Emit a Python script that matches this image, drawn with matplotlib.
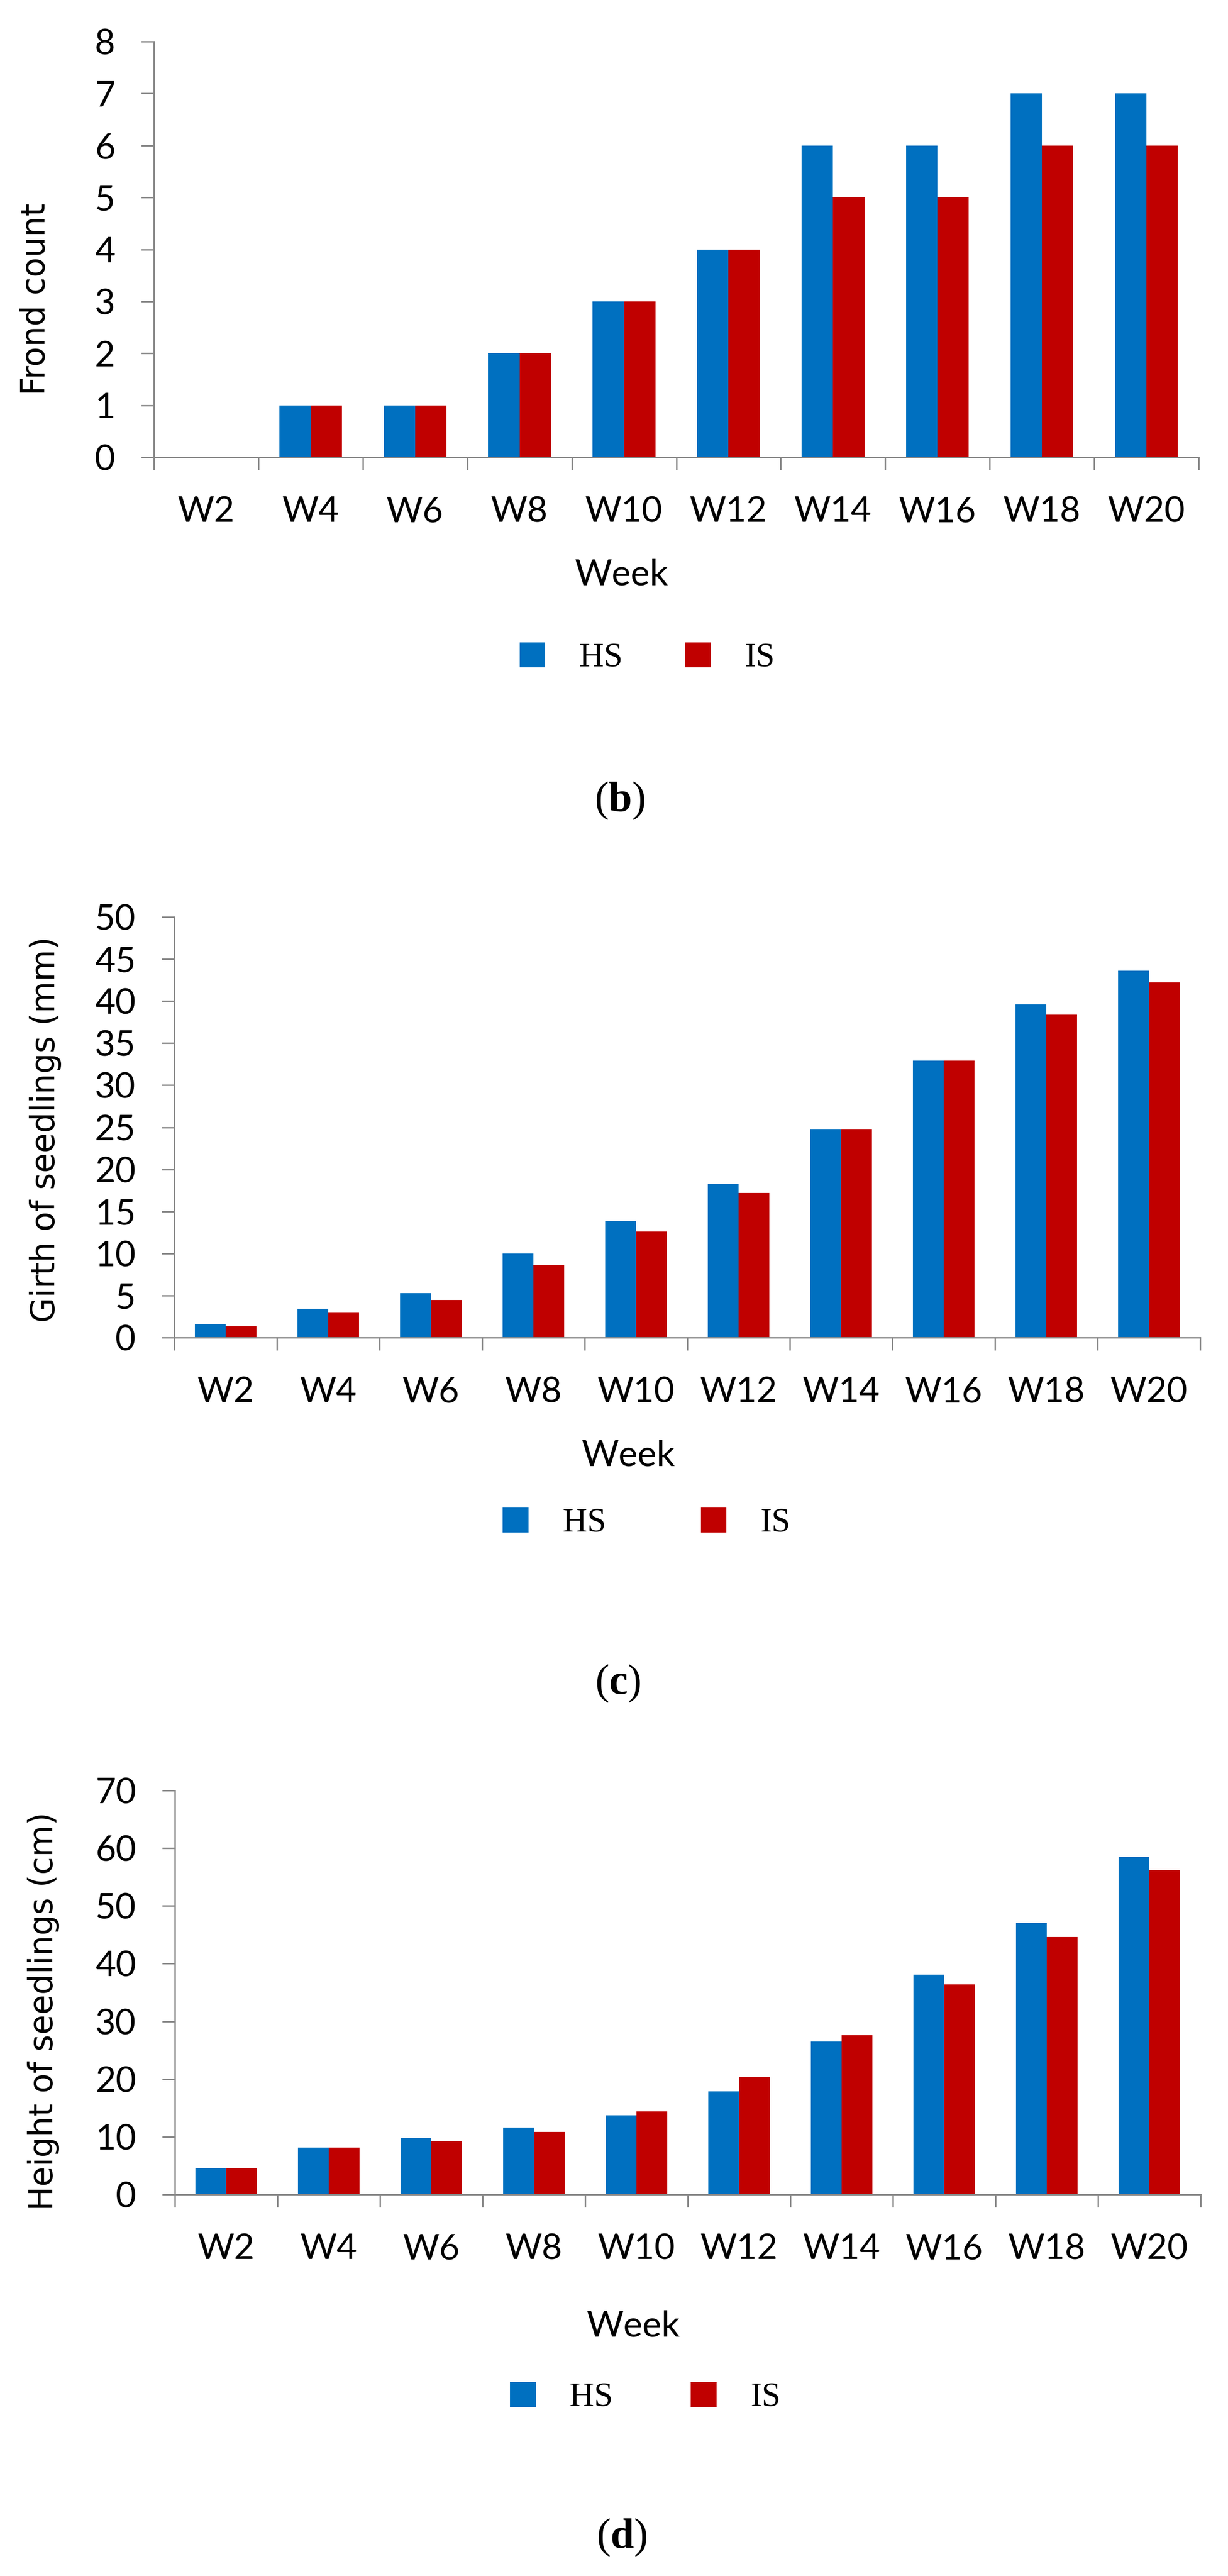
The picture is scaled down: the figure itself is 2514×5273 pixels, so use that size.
import matplotlib.pyplot as plt
import numpy as np

# data
weeks = ['W2', 'W4', 'W6', 'W8', 'W10', 'W12', 'W14', 'W16', 'W18', 'W20']
frond_hs = [0, 1, 1, 2, 3, 4, 6, 6, 7, 7]
frond_is = [0, 1, 1, 2, 3, 4, 5, 5, 6, 6]
girth_hs = [1.6, 3.4, 5.3, 10.0, 13.9, 18.3, 24.8, 32.9, 39.6, 43.6]
girth_is = [1.35, 3.0, 4.5, 8.65, 12.6, 17.2, 24.8, 32.9, 38.4, 42.2]
height_hs = [4.6, 8.1, 9.8, 11.6, 13.7, 17.9, 26.5, 38.1, 47.1, 58.5]
height_is = [4.6, 8.1, 9.2, 10.8, 14.4, 20.4, 27.6, 36.4, 44.6, 56.2]

BLUE = '#0070C0'
RED = '#C00000'
GREY = '#898989'

plt.rcParams['mathtext.fontset'] = 'custom'
plt.rcParams['mathtext.rm'] = 'Liberation Serif'
plt.rcParams['mathtext.bf'] = 'Liberation Serif:bold'

W, H = 2514, 5273
fig = plt.figure(figsize=(W / 100, H / 100), dpi=100)


def fx(x):
    return x / W


def fy(y):
    return 1 - y / H


def panel(box, hs, is_, ymax, ystep, ylabel, ylab_xy, week_xy, leg_xy, colspace, letter, letter_xy):
    left, right, top, bottom = box
    ax = fig.add_axes([fx(left), fy(bottom), fx(right - left), (bottom - top) / H])
    x = np.arange(len(weeks))
    ax.bar(x - 0.15, hs, 0.3, color=BLUE, label='HS', zorder=1)
    ax.bar(x + 0.15, is_, 0.3, color=RED, label='IS', zorder=1)

    ax.set_xlim(-0.5, len(weeks) - 0.5)
    ax.set_ylim(0, ymax)
    ax.set_yticks(np.arange(0, ymax + ystep / 2, ystep))
    ax.set_xticks(x)
    ax.set_xticklabels(weeks)
    ax.set_xticks(np.arange(-0.5, len(weeks)), minor=True)

    for s in ['top', 'right']:
        ax.spines[s].set_visible(False)
    for s in ['left', 'bottom']:
        ax.spines[s].set_color(GREY)
        ax.spines[s].set_linewidth(2.2)

    ax.tick_params(axis='x', which='major', length=0, pad=57, labelsize=52)
    ax.tick_params(axis='x', which='minor', length=19, width=2.2, color=GREY, direction='out')
    ax.tick_params(axis='y', length=19, width=2.2, color=GREY, direction='out', pad=38, labelsize=52)
    for lab in ax.get_xticklabels() + ax.get_yticklabels():
        lab.set_fontfamily('Lato')

    fig.text(fx(ylab_xy[0]), fy(ylab_xy[1]), ylabel, rotation=90, ha='center', va='center',
             fontsize=48, fontfamily='DejaVu Sans')
    fig.text(fx(week_xy[0]), fy(week_xy[1]), 'Week', ha='center', va='center',
             fontsize=53, fontfamily='Lato')

    handles, labels = ax.get_legend_handles_labels()
    fig.legend(handles, labels, loc='center', bbox_to_anchor=(fx(leg_xy[0]), fy(leg_xy[1])),
               ncol=2, frameon=False, prop={'family': 'Liberation Serif', 'size': 50},
               handlelength=0.76, handleheight=0.76, handletextpad=1.0,
               columnspacing=colspace, borderpad=0, borderaxespad=0)

    fig.text(fx(letter_xy[0]), fy(letter_xy[1]), r'($\mathbf{' + letter + '}$)', ha='center', va='center',
             fontsize=62, fontfamily='Liberation Serif')
    return ax


panel((315, 2454, 85, 936), frond_hs, frond_is, 8, 1, 'Frond count',
      (73, 612), (1273, 1177), (1325, 1347), 1.84, 'b', (1269, 1639))
panel((357, 2457, 1877, 2738), girth_hs, girth_is, 50, 5, 'Girth of seedlings (mm)',
      (93, 2312), (1287, 2980), (1324, 3118), 2.8, 'c', (1265, 3446))
panel((358, 2458, 3665, 4492), height_hs, height_is, 70, 10, 'Height of seedlings (cm)',
      (89, 4117), (1297, 4762), (1321, 4908), 2.3, 'd', (1273, 5194))

fig.savefig('out.png', dpi=100, facecolor='white')
